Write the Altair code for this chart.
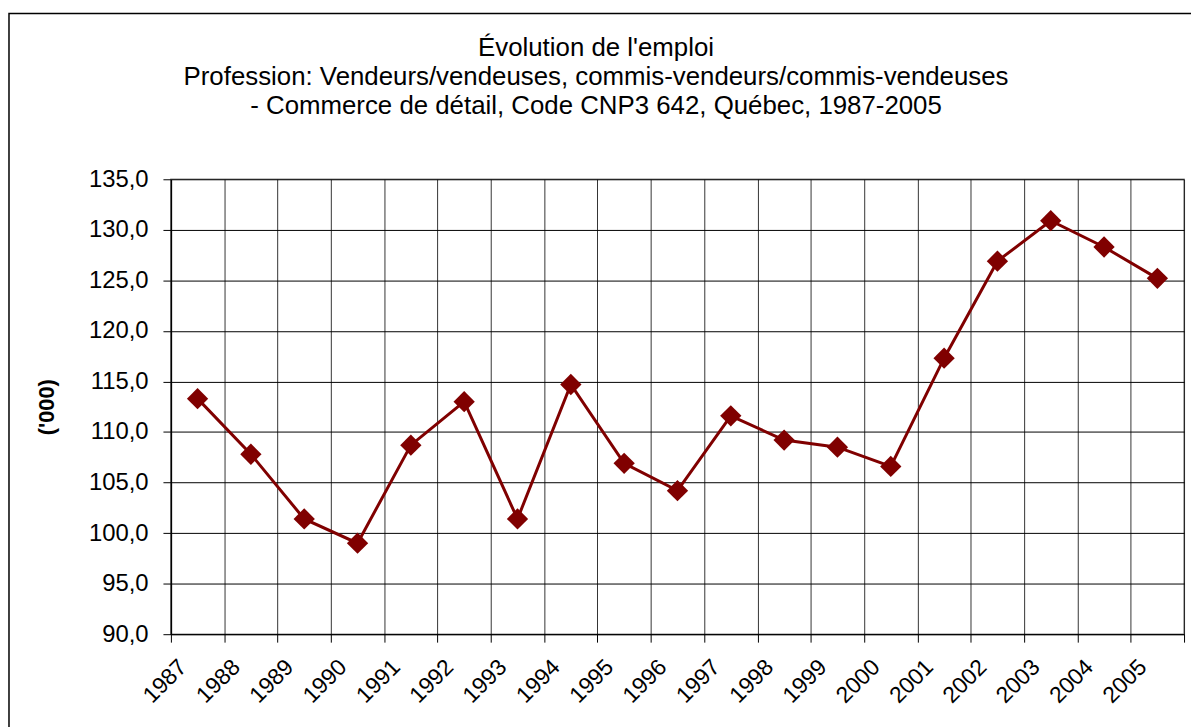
import altair as alt
import pandas as pd

years = ["1987", "1988", "1989", "1990", "1991", "1992", "1993", "1994", "1995", "1996",
         "1997", "1998", "1999", "2000", "2001", "2002", "2003", "2004", "2005"]
emploi = [113.3, 107.8, 101.4, 99.0, 108.7, 113.0, 101.4, 114.7, 106.9, 104.2,
          111.6, 109.2, 108.5, 106.6, 117.3, 126.9, 130.9, 128.3, 125.2]
y_ticks = [90, 95, 100, 105, 110, 115, 120, 125, 130, 135]

title_lines = ["Évolution de l'emploi",
               "Profession: Vendeurs/vendeuses, commis-vendeurs/commis-vendeuses",
               "- Commerce de détail, Code CNP3 642, Québec, 1987-2005"]

df = pd.DataFrame({"annee": years, "emploi": emploi})

FONT = "Liberation Sans"

x_enc = alt.X("annee:O", sort=years,
              scale=alt.Scale(type="band", paddingInner=0, paddingOuter=0),
              bandPosition=0.5,
              axis=alt.Axis(title=None, tickBand="extent", grid=True, gridColor="#000000",
                            gridOpacity=0.8, gridWidth=1, domainColor="#000000", domainWidth=1,
                            tickColor="#000000", tickSize=8, labelAngle=315, labelAlign="right",
                            labelBaseline="middle", labelOffset=-15, labelPadding=21,
                            labelFont=FONT, labelFontSize=23, labelColor="#000000"))

y_enc = alt.Y("emploi:Q",
              scale=alt.Scale(domain=[90, 135], nice=False, zero=False),
              axis=alt.Axis(title="('000)", values=y_ticks, grid=True, gridColor="#000000",
                            gridWidth=1, domainColor="#000000", domainWidth=1.5,
                            tickColor="#000000", tickSize=8, labelPadding=15,
                            labelExpr="replace(format(datum.value, '.1f'), '.', ',')",
                            labelFont=FONT, labelFontSize=24, labelColor="#000000",
                            titleFont=FONT, titleFontSize=22, titleFontWeight="bold",
                            titleColor="#000000", titlePadding=30))

base = alt.Chart(df)

line = base.mark_line(color="#800000", strokeWidth=3).encode(x=x_enc, y=y_enc)
pts = base.mark_point(shape="diamond", filled=True, size=460, color="#800000", opacity=1).encode(
    x=alt.X("annee:O", sort=years, bandPosition=0.5), y="emploi:Q")

frame = alt.Chart(pd.DataFrame({"k": [0]})).mark_rect(
    fill=None, stroke="#000000", strokeWidth=1.5).encode(
    x=alt.value(-163), x2=alt.value(1040), y=alt.value(-167), y2=alt.value(600))

chart = alt.layer(frame, line, pts).properties(
    width=1020, height=458,
    autosize="none",
    padding={"left": 164, "top": 170, "right": 7, "bottom": 91},
    title=alt.TitleParams(text=title_lines, font=FONT, fontSize=26, fontWeight="normal",
                          color="#000000", lineHeight=29, anchor="middle", frame="group",
                          dx=-82, offset=-107),
).configure_view(stroke="#8c8c8c", strokeWidth=1.5)

chart.save("out.html", embed_options={"renderer": "svg", "actions": False})
